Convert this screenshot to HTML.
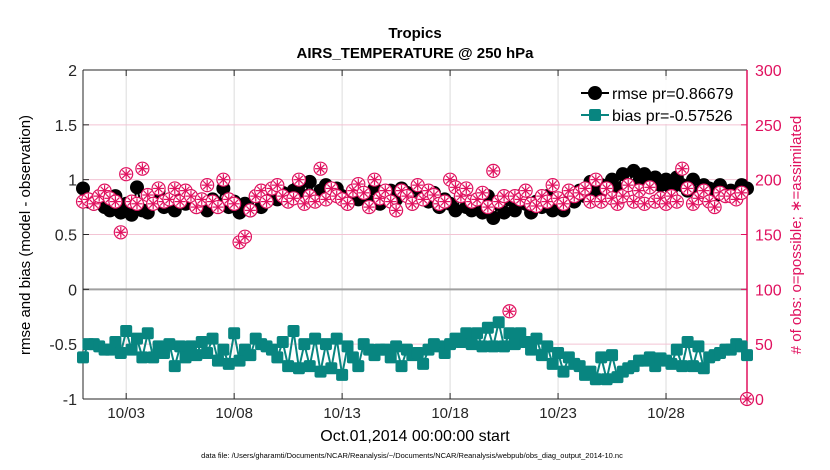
<!DOCTYPE html>
<html><head><meta charset="utf-8"><style>
body{margin:0;background:#fff;}
svg{display:block;font-family:"Liberation Sans",Arial,sans-serif;}
</style></head><body>
<svg id="chart" width="830" height="470" viewBox="0 0 830 470" xmlns="http://www.w3.org/2000/svg">
<rect x="0" y="0" width="830" height="470" fill="#fff"/>
<g id="grid"></g>
<g id="axes"></g>
<g id="marks"></g>
<text x="415" y="38" text-anchor="middle" font-size="15" font-weight="bold">Tropics</text>
<text x="415" y="58" text-anchor="middle" font-size="15" font-weight="bold">AIRS_TEMPERATURE @ 250 hPa</text>
<text transform="translate(30,235) rotate(-90)" text-anchor="middle" font-size="15">rmse and bias (model - observation)</text>
<text transform="translate(801,235) rotate(-90)" text-anchor="middle" font-size="15" fill="#e0115f"># of obs: o=possible; ∗=assimilated</text>
<text x="415" y="441" text-anchor="middle" font-size="16">Oct.01,2014 00:00:00 start</text>
<text x="412" y="458" text-anchor="middle" font-size="7.5">data file: /Users/gharamti/Documents/NCAR/Reanalysis/~/Documents/NCAR/Reanalysis/webpub/obs_diag_output_2014-10.nc</text>
<g id="legend">
  <rect x="575" y="80" width="168" height="44" fill="#fff" opacity="0.9"/>
  <line x1="581" y1="93" x2="609" y2="93" stroke="#000" stroke-width="2"/>
  <circle cx="595" cy="93" r="7" fill="#000"/>
  <text x="612" y="99" font-size="16">rmse pr=0.86679</text>
  <line x1="581" y1="115" x2="609" y2="115" stroke="#088580" stroke-width="2"/>
  <rect x="589" y="109" width="12" height="12" rx="2" fill="#088580"/>
  <text x="612" y="121" font-size="16">bias pr=-0.57526</text>
</g>
</svg>
<script>
const xTickDays=[2,7,12,17,22,27];
const xTickLabels=["10/03","10/08","10/13","10/18","10/23","10/28"];
const leftTicks=[-1,-0.5,0,0.5,1,1.5,2];
const leftTickLabels=["-1","-0.5","0","0.5","1","1.5","2"];
const rightTicks=[0,50,100,150,200,250,300];
const rmse=[.92,.80,.78,.82,.75,.72,.85,.70,.78,.68,.93,.72,.70,.82,.90,.75,.80,.72,.82,.78,.85,.75,.80,.72,.82,.78,.92,.75,.80,.70,.78,.72,.85,.75,.80,.90,.82,.88,.85,.90,.95,.85,.98,.82,.90,.95,.88,.92,.85,.78,.90,.82,.88,.80,.92,.78,.85,.90,.82,.92,.88,.78,.92,.85,.80,.88,.75,.82,.78,.72,.85,.75,.72,.80,.70,.85,.65,.78,.70,.82,.72,.85,.78,.70,.80,.75,.85,.72,.78,.72,.85,.80,.90,.85,.98,.88,.95,.90,1.0,.92,1.05,.95,1.08,.98,1.05,1.0,1.02,.95,1.0,.92,1.02,.95,.90,1.0,.88,.95,.92,.85,.95,.88,.90,.85,.95,.92];
const bias=[-.62,-.50,-.50,-.52,-.55,-.55,-.48,-.58,-.38,-.55,-.45,-.62,-.40,-.62,-.52,-.58,-.50,-.70,-.52,-.62,-.52,-.60,-.48,-.58,-.45,-.65,-.55,-.68,-.40,-.65,-.55,-.60,-.45,-.50,-.52,-.55,-.62,-.48,-.70,-.38,-.72,-.50,-.70,-.45,-.75,-.50,-.72,-.45,-.78,-.52,-.62,-.70,-.50,-.55,-.60,-.55,-.55,-.62,-.52,-.70,-.55,-.60,-.58,-.68,-.55,-.50,-.52,-.58,-.50,-.45,-.48,-.40,-.50,-.40,-.52,-.35,-.52,-.30,-.52,-.40,-.50,-.40,-.48,-.55,-.45,-.60,-.52,-.68,-.58,-.75,-.62,-.68,-.70,-.78,-.75,-.82,-.62,-.82,-.60,-.80,-.75,-.72,-.70,-.65,-.65,-.62,-.70,-.63,-.65,-.68,-.55,-.70,-.48,-.70,-.52,-.72,-.62,-.60,-.58,-.55,-.55,-.50,-.52,-.60];
const obsCount=[180,182,178,185,190,183,180,152,205,180,178,210,186,178,192,180,182,192,180,190,185,175,182,195,180,175,200,182,178,143,148,172,185,190,180,192,195,185,180,183,200,178,185,180,210,182,192,185,182,178,190,196,188,175,200,183,190,180,172,190,185,178,195,182,190,186,178,180,200,193,185,192,180,182,188,175,208,180,185,80,185,182,190,178,176,185,180,195,183,178,190,185,188,192,180,200,180,192,183,178,185,195,180,190,178,193,180,183,178,185,180,210,192,178,183,190,180,175,188,185,185,182,188,0];
const stepDays=0.25;

const X0=83,X1=747,Y0=70,Y1=399,NS="http://www.w3.org/2000/svg";
const span=(rmse.length-1)*stepDays;
function xs(d){return X0+d/span*(X1-X0);}
function yl(v){return Y1-(v+1)/3*(Y1-Y0);}
function yr(n){return Y1-n/300*(Y1-Y0);}
function mk(tag,attrs,parent){const e=document.createElementNS(NS,tag);for(const k in attrs)e.setAttribute(k,attrs[k]);parent.appendChild(e);return e;}
const grid=document.getElementById('grid'),axes=document.getElementById('axes'),marks=document.getElementById('marks');

xTickDays.forEach((d,i)=>{
  const g=mk('line',{x1:xs(d),x2:xs(d),y1:Y0,y2:Y1,stroke:'#dcdcdc','stroke-width':1},grid);
  
  
  mk('line',{x1:xs(d),x2:xs(d),y1:Y1,y2:Y1-6,stroke:'#262626'},axes);
  mk('line',{x1:xs(d),x2:xs(d),y1:Y0,y2:Y0+6,stroke:'#262626'},axes);
  const t=mk('text',{x:xs(d),y:418,'text-anchor':'middle','font-size':15,fill:'#262626'},axes);
  t.textContent=xTickLabels[i];
  
  
});
leftTicks.forEach((v,i)=>{
  if(v!==2&&v!==-1&&v!==0){
    const g=mk('line',{x1:X0,x2:X1,y1:yl(v),y2:yl(v),stroke:'#f3c4d4','stroke-width':1},grid);
    
    
  }
  mk('line',{x1:X0,x2:X0+6,y1:yl(v),y2:yl(v),stroke:'#262626'},axes);
  const t=mk('text',{x:77,y:yl(v)+6,'text-anchor':'end','font-size':16,fill:'#262626'},axes);
  t.textContent=leftTickLabels[i];
  
  
});
const zl=mk('line',{x1:X0,x2:X1,y1:yl(0),y2:yl(0),stroke:'#a0a0a0','stroke-width':2},grid);


rightTicks.forEach(n=>{
  mk('line',{x1:X1,x2:X1-6,y1:yr(n),y2:yr(n),stroke:'#e0115f'},axes);
  const t=mk('text',{x:755,y:yr(n)+6,'font-size':16,fill:'#e0115f'},axes);
  t.textContent=String(n);
  
  
});
mk('line',{x1:X0,x2:X1,y1:Y0,y2:Y0,stroke:'#262626'},axes);
mk('line',{x1:X0,x2:X1,y1:Y1,y2:Y1,stroke:'#262626'},axes);
mk('line',{x1:X0,x2:X0,y1:Y0,y2:Y1,stroke:'#262626'},axes);
mk('line',{x1:X1,x2:X1,y1:Y0,y2:Y1,stroke:'#e0115f','stroke-width':1.5},axes);

const rl=mk('polyline',{points:rmse.map((v,i)=>xs(i*stepDays)+','+yl(v)).join(' '),fill:'none',stroke:'#000','stroke-width':2},marks);


rmse.forEach((v,i)=>{
  const c=mk('circle',{cx:xs(i*stepDays),cy:yl(v),r:7,fill:'#000'},marks);
  
  
});
const bl=mk('polyline',{points:bias.map((v,i)=>xs(i*stepDays)+','+yl(v)).join(' '),fill:'none',stroke:'#088580','stroke-width':2},marks);


bias.forEach((v,i)=>{
  const r=mk('rect',{x:xs(i*stepDays)-6,y:yl(v)-6,width:12,height:12,rx:2,fill:'#088580'},marks);
  
  
});
obsCount.forEach((n,i)=>{
  const cx=xs(i*stepDays),cy=yr(n);
  const g=mk('g',{stroke:'#e0115f','stroke-width':1.2,fill:'none'},marks);
  
  
  mk('circle',{cx:cx,cy:cy,r:6.5,fill:'#fff'},g);
  for(let k=0;k<4;k++){const a=k*Math.PI/4,dx=5.5*Math.cos(a),dy=5.5*Math.sin(a);
    mk('line',{x1:cx-dx,y1:cy-dy,x2:cx+dx,y2:cy+dy},g);}
});
</script>
</body></html>
